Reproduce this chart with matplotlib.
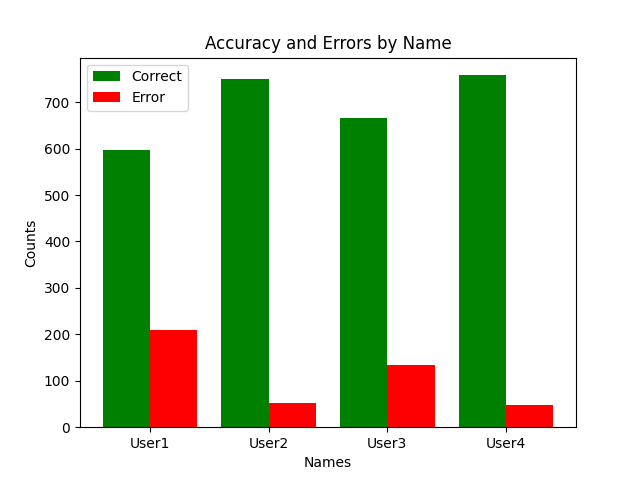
import matplotlib
matplotlib.use("Agg")
import matplotlib.pyplot as plt
import numpy as np

names = ["User1", "User2", "User3", "User4"]
correct = [597, 750, 665, 758]
errors = [209, 52, 134, 47]

x = np.arange(len(names))
w = 0.4
fig, ax = plt.subplots(figsize=(6.4, 4.8), dpi=100)
ax.bar(x - w/2, correct, w, color="green", label="Correct")
ax.bar(x + w/2, errors, w, color="red", label="Error")
ax.set_xticks(x)
ax.set_xticklabels(names)
ax.set_xlabel("Names")
ax.set_ylabel("Counts")
ax.set_title("Accuracy and Errors by Name")
ax.legend(loc="upper left")
fig.savefig("out.png")
